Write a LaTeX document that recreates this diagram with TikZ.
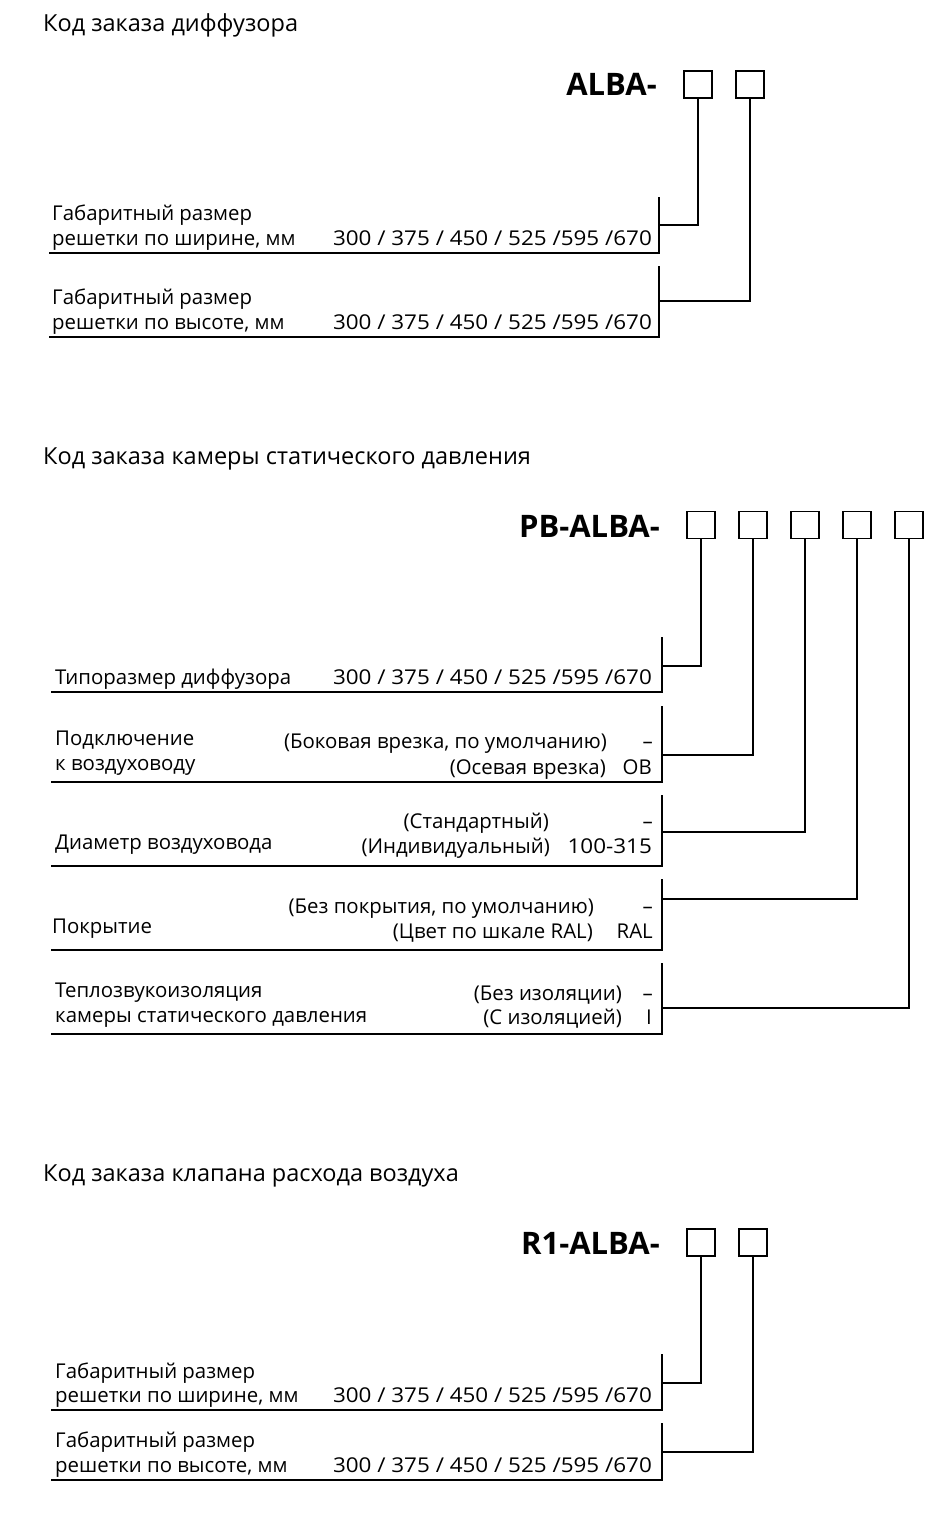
\documentclass[tikz,border=0pt]{standalone}
\usepackage{fontspec}
\setmainfont{Open Sans}
\newfontfamily\numfont[FakeStretch=1.1]{Open Sans}
\usetikzlibrary{calc}
\tikzset{
	cell/.style={draw, line width=1.2pt, minimum width=28pt, minimum height=27pt, inner sep=0pt},
	head/.style={anchor=base west, inner sep=0pt, font=\fontsize{23.5}{27}\selectfont},
	code/.style={anchor=base east, inner sep=0pt, font=\fontsize{31}{31}\selectfont\bfseries},
	lbl/.style={anchor=base west, inner sep=0pt, font=\fontsize{20.4}{24}\selectfont},
	val/.style={anchor=base east, inner sep=0pt, font=\fontsize{20.4}{24}\selectfont},
	num/.style={val, font=\fontsize{20.4}{24}\numfont},
	rule/.style={line width=1.2pt},
}

\begin{document}
\begin{tikzpicture}[x=1pt,y=-1pt]
\useasboundingbox (0,0) rectangle (928,1520);
% diffuser
\node[head] (t1) at (43,32) {Код заказа диффузора};
\node[code] (c1) at (657,95) {ALBA-};
\node[cell] (a1) at (698,84.5) {};
\node[cell] (a2) at (750,84.5) {};
\draw[rule] (49,253) -| (659,197);
\draw[rule] (49,337) -| (659,266);
\coordinate (ra1) at (659,225);
\coordinate (ra2) at (659,301);
\draw[rule] (a1.south) |- (ra1);
\draw[rule] (a2.south) |- (ra2);
\node[lbl] (la1) at (52,220) {Габаритный размер};
\node[lbl] (la1b) at (52,245) {решетки по ширине, мм};
\node[num] (va1) at (652,245) {300 / 375 / 450 / 525 /595 /670};
\node[lbl] (la2) at (52,304) {Габаритный размер};
\node[lbl] (la2b) at (52,329) {решетки по высоте, мм};
\node[num] (va2) at (652,329) {300 / 375 / 450 / 525 /595 /670};
% plenum box
\node[head] (t2) at (43,464) {Код заказа камеры статического давления};
\node[code] (c2) at (660,537) {PB-ALBA-};
\foreach \i/\x in {1/701,2/753,3/805,4/857,5/909}
	\node[cell] (b\i) at (\x,525) {};
\draw[rule] (51,692) -| (662,637);
\draw[rule] (51,782) -| (662,706);
\draw[rule] (51,866) -| (662,795);
\draw[rule] (51,950) -| (662,879);
\draw[rule] (51,1034) -| (662,963);
\foreach \i/\y in {1/666,2/755,3/832,4/899,5/1008}{
	\coordinate (rb\i) at (662,\y);
	\draw[rule] (b\i.south) |- (rb\i);
}
\node[lbl] (lb1) at (55,684) {Типоразмер диффузора};
\node[num] (vb1) at (652,684) {300 / 375 / 450 / 525 /595 /670};
\node[lbl] (lb2) at (55,745) {Подключение};
\node[lbl] (lb2b) at (55,770) {к воздуховоду};
\node[val] (ob2) at (607,748) {(Боковая врезка, по умолчанию)};
\node[val] (vb2) at (653,748) {–};
\node[val] (ob2b) at (606,774) {(Осевая врезка)};
\node[val] (vb2b) at (652,774) {ОВ};
\node[lbl] (lb3) at (55,849) {Диаметр воздуховода};
\node[val] (ob3) at (549,828) {(Стандартный)};
\node[val] (vb3) at (653,828) {–};
\node[val] (ob3b) at (550,853) {(Индивидуальный)};
\node[num] (vb3b) at (652,853) {100-315};
\node[lbl] (lb4) at (52,933) {Покрытие};
\node[val] (ob4) at (594,913) {(Без покрытия, по умолчанию)};
\node[val] (vb4) at (653,913) {–};
\node[val] (ob4b) at (593,938) {(Цвет по шкале RAL)};
\node[val] (vb4b) at (653,938) {RAL};
\node[lbl] (lb5) at (55,997) {Теплозвукоизоляция};
\node[lbl] (lb5b) at (55,1022) {камеры статического давления};
\node[val] (ob5) at (622,1000) {(Без изоляции)};
\node[val] (vb5) at (653,1000) {–};
\node[val] (ob5b) at (622,1024) {(С изоляцией)};
\node[val] (vb5b) at (652,1024) {I};
% air flow damper
\node[head] (t3) at (43,1181) {Код заказа клапана расхода воздуха};
\node[code] (c3) at (660,1254) {R1-ALBA-};
\node[cell] (d1) at (701,1242.5) {};
\node[cell] (d2) at (753,1242.5) {};
\draw[rule] (51,1410) -| (662,1354);
\draw[rule] (51,1480) -| (662,1423);
\coordinate (rd1) at (662,1383);
\coordinate (rd2) at (662,1452);
\draw[rule] (d1.south) |- (rd1);
\draw[rule] (d2.south) |- (rd2);
\node[lbl] (ld1) at (55,1378) {Габаритный размер};
\node[lbl] (ld1b) at (55,1402) {решетки по ширине, мм};
\node[num] (vd1) at (652,1402) {300 / 375 / 450 / 525 /595 /670};
\node[lbl] (ld2) at (55,1447) {Габаритный размер};
\node[lbl] (ld2b) at (55,1472) {решетки по высоте, мм};
\node[num] (vd2) at (652,1472) {300 / 375 / 450 / 525 /595 /670};
\end{tikzpicture}
\end{document}
